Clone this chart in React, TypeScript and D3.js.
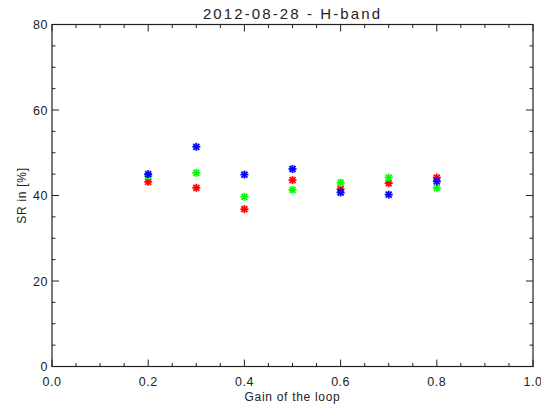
import React from "react";
import * as d3 from "d3";

const gains = [0.2, 0.3, 0.4, 0.5, 0.6, 0.7, 0.8];
const redValues = [43.2, 41.8, 36.8, 43.6, 41.5, 42.9, 44.2];
const greenValues = [44.6, 45.3, 39.7, 41.3, 43.0, 44.2, 41.8];
const blueValues = [45.0, 51.4, 44.9, 46.2, 40.7, 40.2, 43.3];
const xTickLabels = ["0.0", "0.2", "0.4", "0.6", "0.8", "1.0"];
const yTickLabels = ["0", "20", "40", "60", "80"];

const W = 541, H = 405;
const L = 52, R = 533, T = 24.5, B = 366.5;
const font = "'Liberation Sans', Arial, sans-serif";
const axisColor = "#222";

function Star({ cx, cy, color }: { cx: number; cy: number; color: string }) {
  const r = 4;
  const d = r * 0.75;
  return (
    <g stroke={color} strokeWidth={1.8}>
      <line x1={cx - r} y1={cy} x2={cx + r} y2={cy} />
      <line x1={cx} y1={cy - r} x2={cx} y2={cy + r} />
      <line x1={cx - d} y1={cy - d} x2={cx + d} y2={cy + d} />
      <line x1={cx - d} y1={cy + d} x2={cx + d} y2={cy - d} />
    </g>
  );
}

export default function App() {
  const x = d3.scaleLinear().domain([0, 1]).range([L, R]);
  const y = d3.scaleLinear().domain([0, 80]).range([B, T]);
  const xMinor = d3.range(0, 1.0001, 0.05);
  const yMinor = d3.range(0, 80.001, 5);
  const series = [
    { vals: redValues, color: "#ff0000" },
    { vals: greenValues, color: "#00ff00" },
    { vals: blueValues, color: "#0000ff" },
  ];
  return (
    <svg width={W} height={H} style={{ position: "absolute", left: 0, top: 0, background: "#fff" }}>
      <rect x={0} y={0} width={W} height={H} fill="#fff" />
      <rect x={L} y={T} width={R - L} height={B - T} fill="none" stroke={axisColor} strokeWidth={1.2} />
      {xMinor.map((v, i) => {
        const major = i % 4 === 0;
        const len = major ? 7 : 3.5;
        return (
          <g key={"xt" + i} stroke={axisColor} strokeWidth={1}>
            <line x1={x(v)} x2={x(v)} y1={B} y2={B - len} />
            <line x1={x(v)} x2={x(v)} y1={T} y2={T + len} />
          </g>
        );
      })}
      {yMinor.map((v, i) => {
        const major = i % 4 === 0;
        const len = major ? 7 : 3.5;
        return (
          <g key={"yt" + i} stroke={axisColor} strokeWidth={1}>
            <line x1={L} x2={L + len} y1={y(v)} y2={y(v)} />
            <line x1={R} x2={R - len} y1={y(v)} y2={y(v)} />
          </g>
        );
      })}
      {xTickLabels.map((t) => (
        <text key={"xl" + t} x={x(+t)} y={386} textAnchor="middle" fontFamily={font} fontSize={12.5} letterSpacing={0.5} fill="#222">
          {t}
        </text>
      ))}
      {yTickLabels.map((t) => (
        <text key={"yl" + t} x={L - 4} y={y(+t) + 4.5} textAnchor="end" fontFamily={font} fontSize={12.5} letterSpacing={0.5} fill="#222">
          {t}
        </text>
      ))}
      <text x={(L + R) / 2} y={19} textAnchor="middle" fontFamily={font} fontSize={15} letterSpacing={2.1} fill="#222">
        2012-08-28 - H-band
      </text>
      <text x={(L + R) / 2} y={401} textAnchor="middle" fontFamily={font} fontSize={12} letterSpacing={0.7} fill="#222">
        Gain of the loop
      </text>
      <text
        transform={`translate(26, ${(T + B) / 2}) rotate(-90)`}
        textAnchor="middle"
        fontFamily={font}
        fontSize={12}
        letterSpacing={0.7}
        fill="#222"
      >
        SR in [%]
      </text>
      {series.map((s, si) => (
        <g key={"s" + si}>
          {gains.map((g, i) => (
            <Star key={i} cx={x(g)} cy={y(s.vals[i])} color={s.color} />
          ))}
        </g>
      ))}
    </svg>
  );
}
